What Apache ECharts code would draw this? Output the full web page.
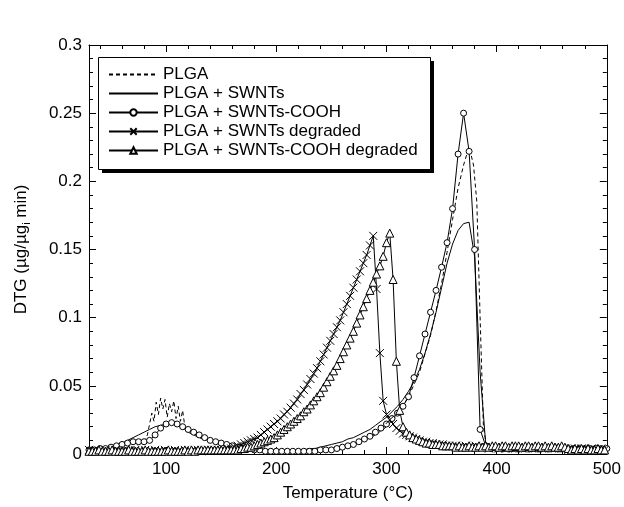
<!DOCTYPE html>
<html><head><meta charset="utf-8">
<script src="https://cdn.jsdelivr.net/npm/echarts@6/dist/echarts.min.js"></script>
<style>html,body{margin:0;padding:0;background:#fff}#c{width:624px;height:507px}</style>
</head><body><div id="c"></div>
<script>
const seriesNames = ['PLGA', 'PLGA + SWNTs', 'PLGA + SWNTs-COOH', 'PLGA + SWNTs degraded', 'PLGA + SWNTs-COOH degraded'];
const xMajorTicks = [100, 200, 300, 400, 500];
const xMinorTicks = [40, 60, 80, 120, 140, 160, 180, 220, 240, 260, 280, 320, 340, 360, 380, 420, 440, 460, 480];

// PLGA (dashed)
const tPlga = [30,40,50,60,70,75,80,83,85,87,89,91,93,95,97,99,101,103,105,107,109,111,113,115,117,120,125,130,140,150,160,170,180,190,200,210,220,230,240,250,260,270,280,290,300,310,320,330,340,345,350,355,360,365,370,373,376,379,382,385,388,391,395,400,410,420,430,440,450,460,470,480,490,500];
const vPlga = [0.002,0.002,0.003,0.004,0.005,0.007,0.009,0.014,0.022,0.030,0.024,0.038,0.029,0.041,0.033,0.040,0.027,0.037,0.031,0.039,0.026,0.035,0.024,0.032,0.020,0.016,0.014,0.012,0.009,0.007,0.005,0.004,0.003,0.003,0.002,0.002,0.002,0.003,0.003,0.004,0.005,0.007,0.010,0.014,0.020,0.029,0.042,0.060,0.087,0.105,0.125,0.148,0.172,0.195,0.212,0.220,0.222,0.212,0.185,0.100,0.020,0.005,0.003,0.002,0.002,0.002,0.002,0.002,0.002,0.002,0.002,0.002,0.002,0.002];

// 5-degree grid (PLGA + SWNTs, PLGA + SWNTs-COOH)
const t5 = [30,35,40,45,50,55,60,65,70,75,80,85,90,95,100,105,110,115,120,125,130,135,140,145,150,155,160,165,170,175,180,185,190,195,200,205,210,215,220,225,230,235,240,245,250,255,260,265,270,275,280,285,290,295,300,305,310,315,320,325,330,335,340,345,350,355,360,365,370,375,380,385,390,395,400,405,410,415,420,425,430,435,440,445,450,455,460,465,470,475,480,485,490,495,500];
const vSwnt = [0.003,0.004,0.004,0.005,0.006,0.007,0.008,0.010,0.012,0.014,
  0.016,0.018,0.020,0.021,0.022,0.022,0.021,0.019,0.017,0.015,
  0.013,0.011,0.010,0.008,0.007,0.006,0.005,0.004,0.004,0.003,
  0.003,0.003,0.002,0.002,0.002,0.002,0.002,0.003,0.003,0.003,
  0.004,0.004,0.005,0.006,0.007,0.008,0.009,0.011,0.012,0.014,
  0.016,0.018,0.021,0.024,0.027,0.031,0.035,0.040,0.046,0.053,
  0.062,0.074,0.088,0.104,0.122,0.140,0.154,0.164,0.169,0.170,
  0.145,0.060,0.008,0.004,0.003,0.003,0.003,0.003,0.003,0.003,
  0.003,0.003,0.003,0.003,0.003,0.003,0.003,0.003,0.003,0.003,
  0.003,0.003,0.003,0.003,0.003];
const vCooh = [0.003,0.003,0.004,0.004,0.005,0.006,0.007,0.008,0.009,0.009,
  0.009,0.010,0.014,0.019,0.022,0.023,0.022,0.020,0.018,0.016,
  0.014,0.012,0.010,0.009,0.008,0.007,0.006,0.005,0.004,0.004,
  0.003,0.003,0.002,0.002,0.002,0.002,0.002,0.002,0.002,0.002,
  0.002,0.002,0.003,0.003,0.003,0.004,0.005,0.006,0.007,0.009,
  0.011,0.013,0.016,0.019,0.022,0.026,0.030,0.035,0.042,0.056,
  0.072,0.088,0.104,0.120,0.137,0.155,0.180,0.220,0.250,0.222,
  0.150,0.018,0.006,0.004,0.004,0.004,0.004,0.004,0.004,0.004,
  0.004,0.004,0.004,0.004,0.004,0.004,0.004,0.004,0.004,0.004,
  0.004,0.004,0.004,0.004,0.004];

// 3-degree grid (degraded samples)
const t3 = [30,33,36,39,42,45,48,51,54,57,60,63,66,69,72,75,78,81,84,87,90,93,96,99,102,105,108,111,114,117,120,123,126,129,132,135,138,141,144,147,150,153,156,159,162,165,168,171,174,177,180,183,186,189,192,195,198,201,204,207,210,213,216,219,222,225,228,231,234,237,240,243,246,249,252,255,258,261,264,267,270,273,276,279,282,285,288,291,294,297,300,303,306,309,312,315,318,321,324,327,330,333,336,339,342,345,348,351,354,357,360,363,366,369,372,375,378,381,384,387,390,393,396,399,402,405,408,411,414,417,420,423,426,429,432,435,438,441,444,447,450,453,456,459,462,465,468,471,474,477,480,483,486,489,492,495,498];
const vSwntDeg = [0.003,0.002,0.003,0.002,0.002,0.003,0.002,0.002,0.003,0.002,
  0.002,0.003,0.002,0.002,0.003,0.002,0.002,0.003,0.002,0.002,
  0.003,0.002,0.002,0.003,0.002,0.002,0.003,0.002,0.002,0.003,
  0.002,0.002,0.003,0.003,0.002,0.003,0.003,0.003,0.003,0.003,
  0.003,0.003,0.004,0.004,0.005,0.006,0.007,0.008,0.009,0.010,
  0.011,0.012,0.014,0.016,0.018,0.020,0.022,0.024,0.026,0.029,
  0.031,0.034,0.037,0.040,0.044,0.047,0.051,0.055,0.059,0.063,
  0.068,0.073,0.078,0.083,0.088,0.093,0.098,0.104,0.110,0.116,
  0.122,0.128,0.134,0.140,0.146,0.153,0.160,0.121,0.074,0.039,
  0.029,0.025,0.022,0.019,0.017,0.015,0.014,0.013,0.012,0.011,
  0.010,0.009,0.009,0.008,0.008,0.007,0.007,0.007,0.006,0.006,
  0.006,0.006,0.005,0.005,0.006,0.005,0.005,0.006,0.005,0.005,
  0.005,0.004,0.005,0.005,0.004,0.005,0.004,0.005,0.004,0.004,
  0.005,0.004,0.004,0.005,0.004,0.004,0.005,0.004,0.004,0.005,
  0.004,0.004,0.005,0.004,0.004,0.003,0.004,0.004,0.003,0.004,
  0.004,0.003,0.004,0.003,0.003,0.004,0.003];
const vCoohDeg = [0.002,0.002,0.002,0.003,0.002,0.002,0.002,0.003,0.002,0.002,
  0.002,0.002,0.003,0.002,0.002,0.002,0.002,0.003,0.002,0.002,
  0.002,0.002,0.002,0.002,0.003,0.002,0.002,0.002,0.002,0.003,
  0.002,0.003,0.002,0.003,0.003,0.003,0.003,0.003,0.003,0.003,
  0.003,0.003,0.003,0.003,0.003,0.003,0.004,0.004,0.005,0.005,
  0.006,0.007,0.008,0.009,0.010,0.011,0.012,0.014,0.016,0.018,
  0.020,0.022,0.024,0.026,0.028,0.031,0.033,0.036,0.039,0.042,
  0.045,0.049,0.053,0.057,0.061,0.065,0.070,0.075,0.080,0.085,
  0.090,0.096,0.102,0.108,0.114,0.120,0.126,0.132,0.138,0.145,
  0.155,0.162,0.128,0.068,0.032,0.020,0.016,0.014,0.012,0.011,
  0.010,0.009,0.008,0.008,0.007,0.007,0.007,0.006,0.006,0.006,
  0.006,0.005,0.006,0.005,0.005,0.006,0.005,0.005,0.006,0.005,
  0.006,0.005,0.006,0.006,0.005,0.006,0.006,0.005,0.006,0.006,
  0.006,0.005,0.006,0.006,0.005,0.006,0.006,0.005,0.006,0.005,
  0.006,0.005,0.005,0.006,0.005,0.004,0.003,0.004,0.003,0.004,
  0.003,0.004,0.003,0.003,0.004,0.003,0.003];

function pairs(t, v) { return t.map((x, i) => [x, v[i]]); }

const font = '"Liberation Sans", Arial, Helvetica, sans-serif';
const XSYM = 'path://M0,0L10,10M10,0L0,10';
const legendBox = { x: 98, y: 57, w: 332, h: 112, shadow: 4 };

const chart = echarts.init(document.getElementById('c'), null, { renderer: 'canvas' });

function xAx(pos, ticks, len, main) {
  return {
    type: 'value', position: pos, min: 30, max: 500,
    axisLine: { show: main, onZero: false, lineStyle: { color: '#000', width: 1 } },
    axisTick: { show: true, inside: true, length: len, customValues: ticks, lineStyle: { color: '#000', width: 1 } },
    axisLabel: main && pos === 'bottom'
      ? { show: true, customValues: xMajorTicks, color: '#000', fontSize: 17, fontFamily: font, margin: 7 }
      : { show: false },
    splitLine: { show: false },
    name: main && pos === 'bottom' ? 'Temperature (°C)' : '',
    nameLocation: 'middle', nameGap: 31,
    nameTextStyle: { color: '#000', fontSize: 17, fontFamily: font }
  };
}
function yAx(pos, main) {
  return {
    type: 'value', position: pos, min: 0, max: 0.3, interval: 0.05,
    axisLine: { show: true, onZero: false, lineStyle: { color: '#000', width: 1 } },
    axisTick: { show: true, inside: true, length: 7, lineStyle: { color: '#000', width: 1 } },
    minorTick: { show: true, splitNumber: 5, length: 4, lineStyle: { color: '#000', width: 1 } },
    axisLabel: main ? { show: true, color: '#000', fontSize: 17, fontFamily: font, margin: 7 } : { show: false },
    splitLine: { show: false }, minorSplitLine: { show: false },
    name: main ? 'DTG (µg/µg{sub|i} min)' : '',
    nameLocation: 'middle', nameGap: 57,
    nameTextStyle: { color: '#000', fontSize: 17, fontFamily: font,
      rich: { sub: { fontSize: 11, fontFamily: font, color: '#000', padding: [10, 0, 0, 0] } } }
  };
}

const baseLine = { color: '#000', width: 1 };
const option = {
  animation: false,
  backgroundColor: '#fff',
  grid: { left: 89, right: 15, top: 45, bottom: 51 },
  graphic: [
    { type: 'rect', z: 5, silent: true,
      shape: { x: legendBox.x + legendBox.shadow, y: legendBox.y + legendBox.shadow, width: legendBox.w, height: legendBox.h },
      style: { fill: '#000' } },
    { type: 'rect', z: 6, silent: true,
      shape: { x: legendBox.x + 0.5, y: legendBox.y + 0.5, width: legendBox.w, height: legendBox.h },
      style: { fill: '#fff', stroke: '#000', lineWidth: 1 } }
  ],
  xAxis: [
    xAx('bottom', xMajorTicks, 7, true),
    xAx('bottom', xMinorTicks, 4, false),
    xAx('top', xMajorTicks, 7, true),
    xAx('top', xMinorTicks, 4, false)
  ],
  yAxis: [yAx('left', true), yAx('right', false)],
  legend: {
    z: 10,
    orient: 'vertical', left: legendBox.x, top: legendBox.y,
    padding: [9, 12, 9, 10], itemGap: 2, itemWidth: 49, itemHeight: 8,
    textStyle: { fontSize: 17, fontFamily: font, color: '#000', lineHeight: 17 },
    data: [
      { name: seriesNames[0], itemStyle: { opacity: 0 } },
      { name: seriesNames[1], itemStyle: { opacity: 0 } },
      seriesNames[2], seriesNames[3], seriesNames[4]
    ]
  },
  series: [
    { name: seriesNames[0], type: 'line', data: pairs(tPlga, vPlga), symbol: 'none', showSymbol: false,
      lineStyle: { color: '#000', width: 1, type: [4, 3] }, itemStyle: { color: '#000' } },
    { name: seriesNames[1], type: 'line', data: pairs(t5, vSwnt), symbol: 'none', showSymbol: false,
      lineStyle: baseLine, itemStyle: { color: '#000' } },
    { name: seriesNames[2], type: 'line', data: pairs(t5, vCooh), symbol: 'circle', symbolSize: 6,
      showSymbol: true, showAllSymbol: true,
      lineStyle: baseLine, itemStyle: { color: '#fff', borderColor: '#000', borderWidth: 1 } },
    { name: seriesNames[3], type: 'line', data: pairs(t3, vSwntDeg), symbol: XSYM, symbolSize: 8,
      showSymbol: true, showAllSymbol: true,
      lineStyle: baseLine, itemStyle: { color: '#000', borderColor: '#000', borderWidth: 1 } },
    { name: seriesNames[4], type: 'line', data: pairs(t3, vCoohDeg), symbol: 'triangle', symbolSize: 8,
      showSymbol: true, showAllSymbol: true,
      lineStyle: baseLine, itemStyle: { color: '#fff', borderColor: '#000', borderWidth: 1 } }
  ]
};
chart.setOption(option);
</script>
</body></html>
